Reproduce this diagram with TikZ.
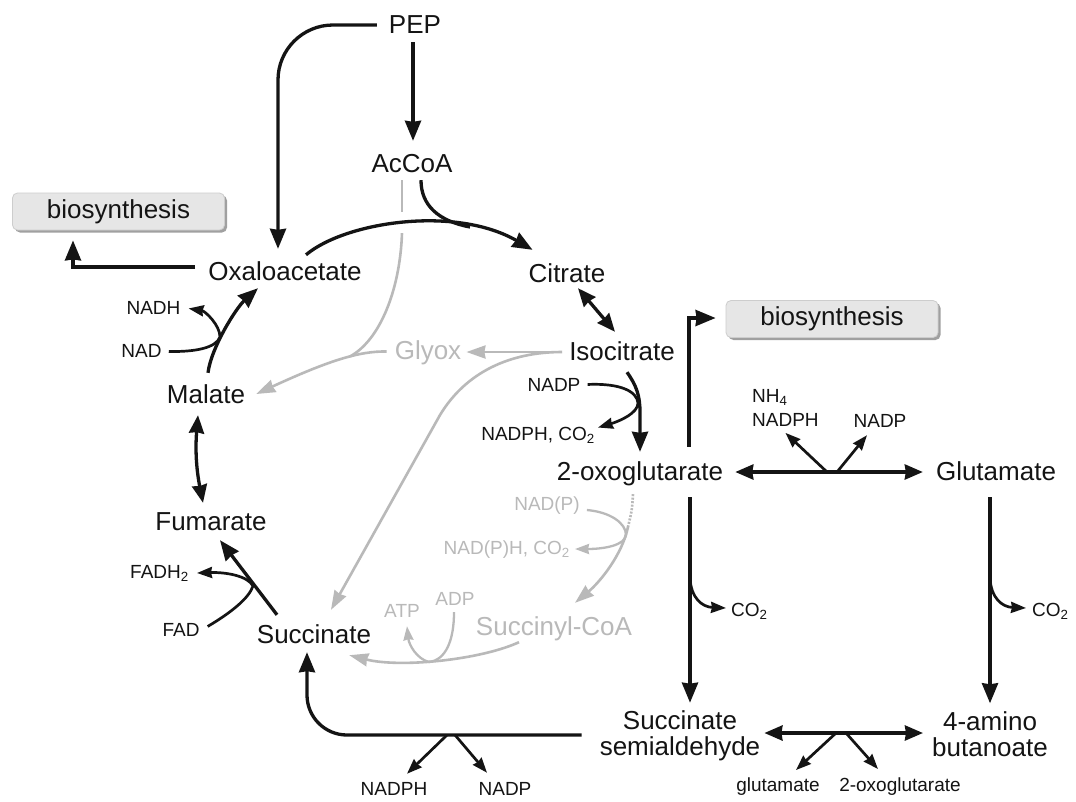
\documentclass[tikz,border=0pt]{standalone}
\usepackage{fontspec}
\setmainfont{Liberation Sans}
\usetikzlibrary{arrows.meta,calc,shadows}
\definecolor{lg}{RGB}{185,185,185}
\definecolor{ink}{RGB}{20,20,20}
\definecolor{boxfill}{RGB}{230,230,230}
\definecolor{boxedge}{RGB}{205,205,205}
\definecolor{boxshadow}{RGB}{160,160,160}
\begin{document}
\begin{tikzpicture}[x=1pt,y=-1pt,
  lbl/.style={font=\fontsize{26}{26}\selectfont, inner sep=0pt, text height=19pt, text depth=0pt, anchor=base, text=ink},
  twoline/.style={font=\fontsize{26}{26}\selectfont, inner sep=0pt, align=center, text=ink},
  sm/.style={font=\fontsize{19}{24}\selectfont, inner sep=0pt, anchor=base, text=ink},
  glbl/.style={lbl, text=lg},
  gsm/.style={sm, text=lg},
  biobox/.style={fill=boxfill, draw=boxedge, line width=0.8pt, rounded corners=5pt,
    minimum width=212pt, minimum height=37pt, inner sep=0pt,
    font=\fontsize{26}{26}\selectfont, text=ink,
    drop shadow={shadow xshift=2.5pt, shadow yshift=-2.5pt, fill=boxshadow, opacity=1}},
  rxn/.style={draw=ink, line width=3.3pt, -{Stealth[length=20pt,width=16pt,inset=1pt]}},
  rxnline/.style={draw=ink, line width=3.3pt},
  rxnboth/.style={draw=ink, line width=3.3pt, {Stealth[length=18pt,width=15pt,inset=1pt]}-{Stealth[length=18pt,width=15pt,inset=1pt]}},
  rxnside/.style={draw=ink, line width=2.7pt, -{Stealth[length=15pt,width=11pt,inset=1pt]}},
  gmain/.style={draw=lg, line width=2.6pt, -{Stealth[length=19pt,width=13pt,inset=1pt]}},
  gline/.style={draw=lg, line width=2.6pt},
  gside/.style={draw=lg, line width=2.3pt, -{Stealth[length=14pt,width=10pt,inset=1pt]}},
]
\useasboundingbox (0,0) rectangle (1076,801);
\fill[white] (0,0) rectangle (1076,801);

% ---------- main metabolites ----------
\node[lbl] (PEP) at (415,33) {PEP};
\node[lbl] (AcCoA) at (412,172) {AcCoA};
\node[lbl] (OAA) at (285,280) {Oxaloacetate};
\node[lbl] (Cit) at (567,282) {Citrate};
\node[lbl] (Iso) at (622,360) {Isocitrate};
\node[glbl] (Glyox) at (428,359) {Glyox};
\node[lbl] (Mal) at (206,403) {Malate};
\node[lbl] (Fum) at (211,530) {Fumarate};
\node[lbl] (Suc) at (314,643) {Succinate};
\node[glbl] (SucCoA) at (554,635) {Succinyl-CoA};
\node[lbl] (OG) at (640,480) {2-oxoglutarate};
\node[lbl] (Glu) at (996,480) {Glutamate};
\node[twoline] (SSA) at (680,736) {Succinate\\semialdehyde};
\node[twoline] (GABA) at (990,734) {4-amino\\butanoate};
\node[biobox] (BioL) at (118.5,211.5) {biosynthesis};
\node[biobox] (BioR) at (832,319) {biosynthesis};

% ---------- cofactor labels ----------
\node[sm] (NADH) at (153.5,314) {NADH};
\node[sm] (NAD) at (141.5,357) {NAD};
\node[sm, anchor=base east] (FADH) at (189,578) {FADH\textsubscript{2}};
\node[sm] (FAD) at (181,636) {FAD};
\node[sm] (NADPa) at (554,391) {NADP};
\node[sm, anchor=base east] (NADPHa) at (595,440) {NADPH, CO\textsubscript{2}};
\node[sm, align=left, anchor=north west] (NHa) at (752,389.4) {NH\textsubscript{4}\\NADPH};
\node[sm] (NADPb) at (880,427) {NADP};
\node[sm, anchor=base west] (CO2a) at (731,616) {CO\textsubscript{2}};
\node[sm, anchor=base west] (CO2b) at (1032,616) {CO\textsubscript{2}};
\node[sm] (NADPHc) at (394,795) {NADPH};
\node[sm] (NADPc) at (505,795) {NADP};
\node[sm] (glut) at (778,791) {glutamate};
\node[sm] (ogs) at (900,791) {2-oxoglutarate};
\node[gsm] (NADPg) at (547,510) {NAD(P)};
\node[gsm, anchor=base east] (NADPHg) at (570,554) {NAD(P)H, CO\textsubscript{2}};
\node[gsm] (ATP) at (402,617) {ATP};
\node[gsm] (ADP) at (455,605) {ADP};

% ---------- gray (glyoxylate shunt and inactive steps) ----------
\draw[gline] ($(AcCoA.south)+(-10,8)$) -- ($(AcCoA.south)+(-10,40)$);
\draw[gline] ($(AcCoA.south)+(-10,61)$) .. controls (400,290) and (380,340) .. (350,356.5);
\draw[gmain] ($(Glyox.west)+(-8,2)$) .. controls (360,351) and (330,360) .. ($(Mal.east)+(11,0.5)$);
\draw[gmain] ($(Iso.west)+(-7,1.5)$) -- ($(Glyox.east)+(5,2.5)$);
\draw[gmain] ($(Iso.west)+(-7,1.5)$) .. controls (510,352) and (466,372) .. (440,415) -- ($(Suc.north)+(17,-14)$);
\coordinate (gd) at (628,527);
\draw[gline, dash pattern=on 2pt off 1.5pt] ($(OG.south)+(-7,14)$) .. controls (632,510) .. (gd);
\draw[gmain] (gd) .. controls (622,555) and (600,582) .. ($(SucCoA.north)+(21,-13)$);
\draw[gside] ($(NADPg.base east)+(7,0)$) .. controls (610,512) and (626,523) .. (626,535)
  .. controls (625,545) and (605,549) .. ($(NADPHg.base east)+(5,-5)$);
\draw[gmain] ($(SucCoA.south)+(-35,7)$) .. controls (480,660) and (400,668) .. ($(Suc.south east)+(-22,12)$);
\draw[gside] ($(ADP.south)+(-1,7)$) .. controls (454,640) and (446,660) .. (429,662)
  .. controls (417,659) and (409,645) .. ($(ATP.south)+(5,9)$);

% ---------- black reactions ----------
\draw[rxn, rounded corners=55pt] ($(PEP.west)+(-12,1.5)$) -| ($(OAA.north)+(-7,-12)$);
\draw[rxn] ($(PEP.south)+(-2,9)$) -- ($(AcCoA.north)+(1,-12)$);
\draw[rxn] ($(OAA.north)+(21,-6)$) .. controls (345,222) and (455,205) .. ($(Cit.north west)+(4,-13)$);
\draw[rxnline] ($(AcCoA.south)+(9,8)$) .. controls (421,205) and (438,221) .. (470,227);
\draw[rxn] ($(OAA.west)+(-13,-3.5)$) -| ($(BioL.south)+(-45.5,10)$);
\draw[rxnboth] ($(Cit.south)+(11,6)$) -- ($(Iso.north)+(-7,-9)$);
\draw[rxn] ($(Iso.south)+(5,12)$) .. controls (636,385) and (640,395) .. (640,412) -- ($(OG.north)+(0,-9)$);
\draw[rxnside] ($(NADPa.east)+(7,0)$) .. controls (622,383) and (637,392) .. (638,403)
  .. controls (638,413) and (620,421) .. ($(NADPHa.north east)+(3,1)$);
\draw[rxn] ($(Mal.north)+(2,-11)$) .. controls (211,348) and (236,308) .. ($(OAA.south)+(-27,8)$);
\draw[rxnside] ($(NAD.east)+(7,1)$) .. controls (195,352) and (216,348) .. (220,337)
  .. controls (220,325) and (205,311) .. ($(NADH.east)+(8,1)$);
\draw[rxnboth] ($(Mal.south)+(-8,12)$) to[bend right=8] ($(Fum.north)+(-8,-8)$);
\draw[rxn] ($(Suc.north)+(-37,-9)$) -- ($(Fum.south)+(9,10)$);
\draw[rxnside] ($(FAD.east)+(8,-3)$) .. controls (232,612) and (249,598) .. (253,586)
  .. controls (248,576) and (226,572) .. ($(FADH.base east)+(8,-5)$);
\draw[rxn, rounded corners=40pt] ($(SSA.west)+(-18,-1)$) -| ($(Suc.south)+(-7,9)$);
\coordinate (vb1) at (447,735);
\coordinate (vb2) at (455,735);
\draw[rxnside] (vb1) -- ($(NADPHc.north)+(13,-8)$);
\draw[rxnside] (vb2) -- ($(NADPc.north)+(-18,-9)$);
\draw[rxn] ($(OG.north)+(49,-14)$) |- ($(BioR.west)+(-10,-1)$);
\draw[rxnboth] ($(OG.east)+(12,1.5)$) -- ($(Glu.west)+(-13,1.5)$);
\coordinate (vu1) at (827,472);
\coordinate (vu2) at (837,472);
\draw[rxnside] (vu1) -- ($(NHa.south)+(0,6)$);
\draw[rxnside] (vu2) -- ($(NADPb.south)+(-13,8)$);
\draw[rxn] ($(OG.south)+(50,17)$) -- ($(SSA.north)+(10,-8)$);
\coordinate (cb1) at (690,578);
\draw[rxnside] (cb1) .. controls (691,598) and (702,607) .. ($(CO2a.base west)+(-5,-8)$);
\draw[rxn] ($(Glu.south)+(-6,17)$) -- ($(GABA.north)+(0,-8)$);
\coordinate (cb2) at (990,578);
\draw[rxnside] (cb2) .. controls (991,598) and (1002,607) .. ($(CO2b.base west)+(-6,-8)$);
\draw[rxnboth] ($(SSA.east)+(4,-3)$) -- ($(GABA.west)+(-9,-1)$);
\coordinate (vs1) at (836,733);
\coordinate (vs2) at (846,733);
\draw[rxnside] (vs1) -- ($(glut.north)+(18,-7)$);
\draw[rxnside] (vs2) -- ($(ogs.north)+(-22,-8)$);
\end{tikzpicture}
\end{document}
